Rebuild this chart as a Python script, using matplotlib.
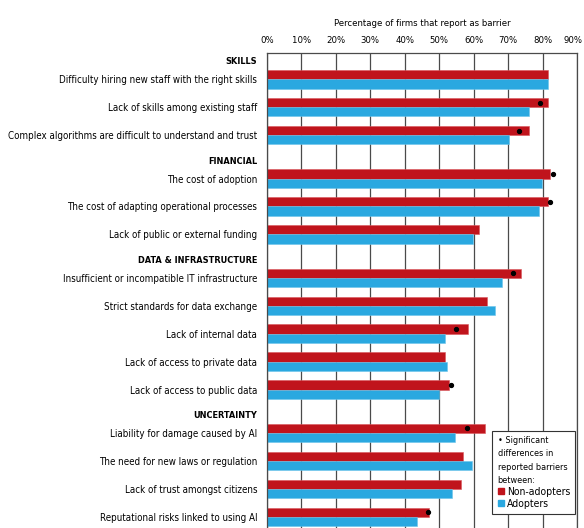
import numpy as np
import matplotlib
matplotlib.use("Agg")
import matplotlib.pyplot as plt
import matplotlib.transforms as mtransforms
from matplotlib.lines import Line2D

plt.rcParams['font.family'] = ['DejaVu Sans']
plt.rcParams['font.stretch'] = 'condensed'

groups = ["SKILLS", "FINANCIAL", "DATA & INFRASTRUCTURE", "UNCERTAINTY"]
group_sizes = [3, 3, 5, 4]
barriers = [
    "Difficulty hiring new staff with the right skills",
    "Lack of skills among existing staff",
    "Complex algorithms are difficult to understand and trust",
    "The cost of adoption",
    "The cost of adapting operational processes",
    "Lack of public or external funding",
    "Insufficient or incompatible IT infrastructure",
    "Strict standards for data exchange",
    "Lack of internal data",
    "Lack of access to private data",
    "Lack of access to public data",
    "Liability for damage caused by AI",
    "The need for new laws or regulation",
    "Lack of trust amongst citizens",
    "Reputational risks linked to using AI",
]
non_adopters = [81.6, 81.6, 76.2, 82.3, 81.6, 61.5, 73.8, 64.0, 58.3, 51.7, 52.8, 63.4, 56.9, 56.3, 47.1]
adopters = [81.6, 76.2, 70.2, 79.8, 78.9, 59.8, 68.3, 66.2, 51.7, 52.4, 50.0, 54.7, 59.4, 53.8, 43.5]
significant = [np.nan, 79.2, 73.2, 82.9, 82.3, np.nan, 71.4, np.nan, 54.9, np.nan, 53.3, 58.0, np.nan, np.nan, 46.8]

red = '#c0141c'
blue = '#2aa8e0'

# row positions: one unit per barrier, a small gap between groups
ypos, header_pos = [], []
y = 0.0
for i, n in enumerate(group_sizes):
    if i > 0:
        y += 0.55
    header_pos.append(y - 0.66)
    for _ in range(n):
        ypos.append(y)
        y += 1
ypos = np.array(ypos)

fig = plt.figure(figsize=(5.84, 5.28), dpi=100)
ax = fig.add_axes([267 / 584, 0.0, 310 / 584, 1 - 53 / 528])

bh = 0.33
ax.barh(ypos - bh / 2, non_adopters, height=bh, color=red, edgecolor='#d9565c', linewidth=0.4)
ax.barh(ypos + bh / 2, adopters, height=bh, color=blue, edgecolor='#6cc4ea', linewidth=0.4)
ax.plot(significant, ypos - bh / 2, 'o', color='black', markersize=2.8)

ax.set_xlim(0, 90)
ax.set_ylim(16.05, -0.94)
ax.set_xticks(np.arange(0, 91, 10))
ax.set_xticklabels([f"{v}%" for v in range(0, 91, 10)])
ax.xaxis.tick_top()
ax.xaxis.set_label_position('top')
ax.set_xlabel("Percentage of firms that report as barrier", fontsize=6.8, labelpad=7)
ax.tick_params(axis='x', length=0, pad=6, labelsize=6.8)
ax.grid(axis='x', color='#4a4a4a', linewidth=0.9)
ax.set_axisbelow(True)

# keep the last tick label inside the figure
last = ax.get_xticklabels()[-1]
last.set_transform(last.get_transform() +
                   mtransforms.ScaledTranslation(-4 / 100, 0, fig.dpi_scale_trans))

ticks = list(ypos) + header_pos
labels = barriers + groups
ax.set_yticks(ticks)
ax.set_yticklabels(labels)
ax.tick_params(axis='y', length=0, pad=7, labelsize=7.0)
for lab in ax.get_yticklabels()[len(barriers):]:
    lab.set_fontweight('bold')
    lab.set_fontsize(6.6)

for side in ['top', 'left', 'right']:
    ax.spines[side].set_color('#4a4a4a')
    ax.spines[side].set_linewidth(0.9)
ax.spines['bottom'].set_visible(False)

handles = [
    Line2D([], [], marker='s', linestyle='', color=red, markersize=5),
    Line2D([], [], marker='s', linestyle='', color=blue, markersize=5),
]
leg = ax.legend(handles, ["Non-adopters", "Adopters"],
                title="\u2022 Significant\ndifferences in\nreported barriers\nbetween:",
                title_fontsize=6.5, fontsize=7.5, alignment='left',
                loc='lower left', bbox_to_anchor=(0.71, 0.018),
                frameon=True, fancybox=False, edgecolor='#333333',
                framealpha=1, handlelength=0.6, handletextpad=0.3,
                borderpad=0.5, labelspacing=0.2)
leg.get_frame().set_linewidth(0.8)
leg.get_title().set_linespacing(1.6)

fig.savefig("out.png", dpi=100)
